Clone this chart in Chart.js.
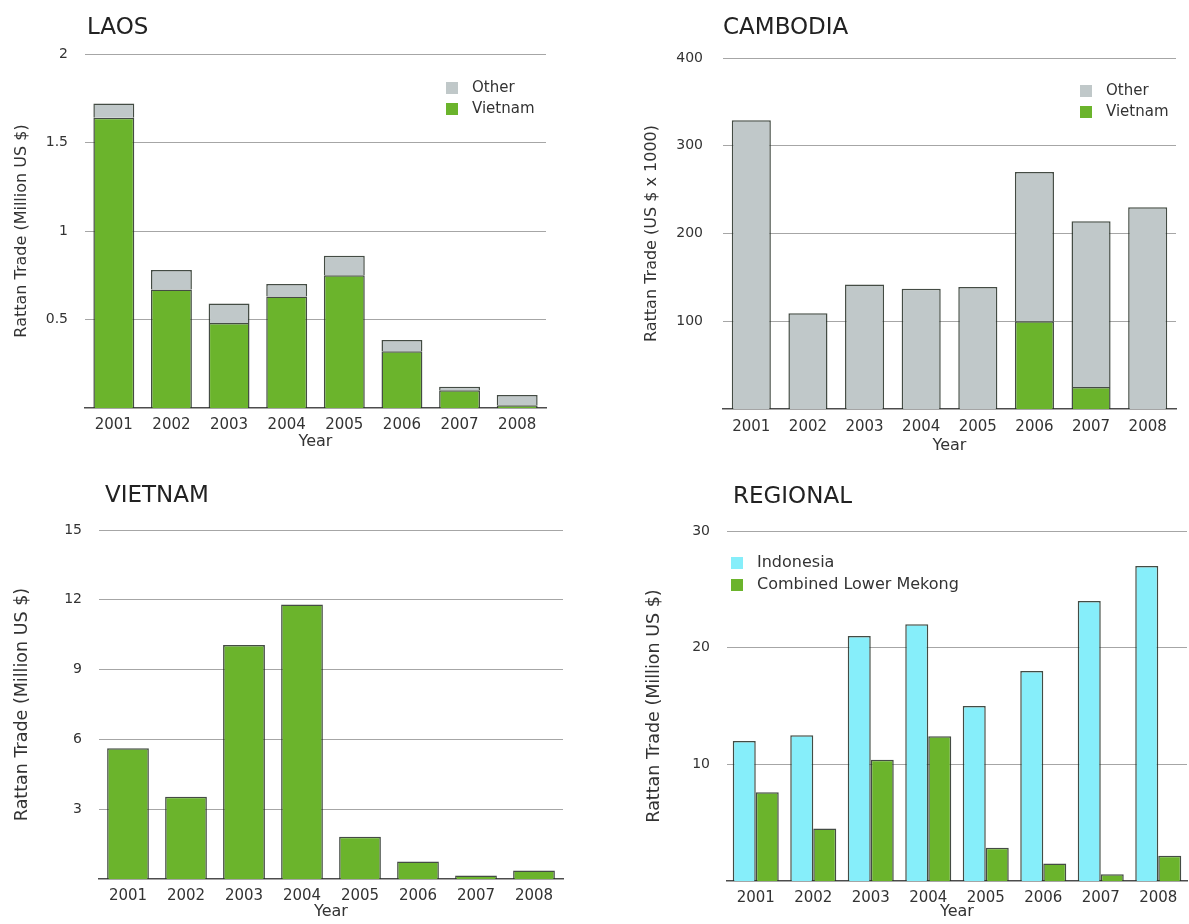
<!DOCTYPE html>
<html>
<head>
<meta charset="utf-8">
<title>Rattan trade</title>
<script src="https://cdn.jsdelivr.net/npm/chart.js@4.4.1/dist/chart.umd.min.js"></script>
<style>
  html, body { margin: 0; padding: 0; background: #ffffff; }
  body { width: 1189px; height: 924px; position: relative; overflow: hidden; }
  .panel { position: absolute; }
  .panel canvas { display: block; }
</style>
</head>
<body>
<div class="panel" style="left:0;top:0;"><canvas id="laos" width="594" height="462"></canvas></div>
<div class="panel" style="left:594px;top:0;"><canvas id="cambodia" width="595" height="462"></canvas></div>
<div class="panel" style="left:0;top:462px;"><canvas id="vietnam" width="594" height="462"></canvas></div>
<div class="panel" style="left:594px;top:462px;"><canvas id="regional" width="595" height="462"></canvas></div>

<script>
// ---- data ----
const years = ['2001', '2002', '2003', '2004', '2005', '2006', '2007', '2008'];

// Laos (million US $)
const laosToVietnam = [1.64, 0.67, 0.48, 0.63, 0.75, 0.32, 0.10, 0.015];
const laosToOther   = [0.08, 0.11, 0.11, 0.07, 0.11, 0.064, 0.02, 0.058];
const laosTicks     = [0.5, 1, 1.5, 2];

// Cambodia (US $ x 1000)
const cambodiaToVietnam = [0, 0, 0, 0, 0, 100, 25, 0];
const cambodiaToOther   = [329, 109, 142, 137, 139, 170, 189, 230];
const cambodiaTicks     = [100, 200, 300, 400];

// Vietnam (million US $)
const vietnamTrade = [5.62, 3.54, 10.06, 11.8, 1.82, 0.75, 0.15, 0.37];
const vietnamTicks = [3, 6, 9, 12, 15];

// Regional comparison (million US $)
const indonesiaTrade   = [12, 12.5, 21, 22, 15, 18, 24, 27];
const lowerMekongTrade = [7.6, 4.5, 10.4, 12.4, 2.85, 1.5, 0.57, 2.17];
const regionalTicks    = [10, 20, 30];

// ---- styling ----
const FONT = '"DejaVu Sans", "Liberation Sans", sans-serif';
const GREEN = '#6bb42c';
const GREY = '#c0c8c9';
const CYAN = '#86eefa';
const EDGE = 'rgba(35,45,35,0.85)';
const TEXT = '#333333';

// panel heading and in-plot legend
const panelDecor = {
  id: 'panelDecor',
  afterDraw(chart, args, opts) {
    const ctx = chart.ctx;
    ctx.save();
    ctx.textBaseline = 'middle';
    ctx.textAlign = 'left';
    ctx.fillStyle = '#222222';
    ctx.font = '23px ' + FONT;
    ctx.fillText(opts.title, opts.titleX, opts.titleY);
    if (opts.legend) {
      let ds = chart.data.datasets.slice();
      if (opts.reverse) ds.reverse();
      ctx.font = opts.legendSize + 'px ' + FONT;
      ds.forEach((d, i) => {
        const y = opts.legendY + i * opts.legendGap;
        ctx.fillStyle = d.backgroundColor;
        ctx.fillRect(opts.legendX, y - 6, 12, 12);
        ctx.fillStyle = TEXT;
        ctx.fillText(d.label, opts.legendX + 26, y);
      });
    }
    ctx.restore();
  }
};

function makePanel(id, datasets, opt) {
  const tickValues = opt.ticks;
  return new Chart(document.getElementById(id), {
    type: 'bar',
    data: { labels: years, datasets: datasets },
    plugins: [panelDecor],
    options: {
      responsive: false,
      animation: false,
      events: [],
      layout: { padding: { left: 0, top: opt.top, right: opt.right, bottom: 0 } },
      datasets: {
        bar: {
          categoryPercentage: opt.catPct,
          barPercentage: opt.barPct,
          borderColor: EDGE,
          borderWidth: 1.5
        }
      },
      plugins: {
        legend: { display: false },
        tooltip: { enabled: false },
        panelDecor: opt.decor
      },
      scales: {
        x: {
          stacked: opt.stacked,
          grid: { display: false, drawTicks: false },
          border: { display: true, color: '#4d4d4d', width: 1.5 },
          ticks: {
            color: TEXT, font: { family: FONT, size: 15 },
            padding: opt.xTickPad, maxRotation: 0, autoSkip: false
          },
          title: {
            display: true, text: 'Year', color: TEXT,
            font: { family: FONT, size: 16 },
            padding: { top: 0, bottom: opt.yearPad }
          },
          afterFit(axis) { axis.height = opt.xAxisH; }
        },
        y: {
          stacked: opt.stacked,
          min: 0,
          max: opt.max,
          afterBuildTicks(axis) { axis.ticks = tickValues.map(v => ({ value: v })); },
          grid: { color: '#a6a6a6', lineWidth: 1, drawTicks: false },
          border: { display: false },
          ticks: {
            color: TEXT, font: { family: FONT, size: 14 },
            padding: opt.yTickPad,
            callback: v => String(v)
          },
          title: {
            display: true, text: opt.yTitle, color: TEXT,
            font: { family: FONT, size: opt.yTitleSize },
            padding: { top: opt.yTitlePad, bottom: 0 }
          },
          afterFit(axis) { axis.width = opt.yAxisW; }
        }
      }
    }
  });
}

// LAOS
makePanel('laos', [
  { label: 'Vietnam', data: laosToVietnam, backgroundColor: GREEN },
  { label: 'Other', data: laosToOther, backgroundColor: GREY }
], {
  stacked: true, max: 2, ticks: laosTicks,
  yTitle: 'Rattan Trade (Million US $)', yTitleSize: 16,
  top: 54, right: 48, yAxisW: 85, xAxisH: 54,
  xTickPad: 8, yearPad: 10.4, yTickPad: 17, yTitlePad: 12.4,
  catPct: 1, barPct: 0.71,
  decor: { title: 'LAOS', titleX: 87, titleY: 28, legend: true, reverse: true,
           legendX: 446, legendY: 88, legendGap: 21, legendSize: 15 }
});

// CAMBODIA
makePanel('cambodia', [
  { label: 'Vietnam', data: cambodiaToVietnam, backgroundColor: GREEN },
  { label: 'Other', data: cambodiaToOther, backgroundColor: GREY }
], {
  stacked: true, max: 400, ticks: cambodiaTicks,
  yTitle: 'Rattan Trade (US $ x 1000)', yTitleSize: 16,
  top: 58, right: 13, yAxisW: 129, xAxisH: 53,
  xTickPad: 9, yearPad: 6.4, yTickPad: 20, yTitlePad: 48.4,
  catPct: 1, barPct: 0.69,
  decor: { title: 'CAMBODIA', titleX: 129, titleY: 28, legend: true, reverse: true,
           legendX: 486, legendY: 91, legendGap: 21, legendSize: 15 }
});

// VIETNAM
makePanel('vietnam', [
  { label: 'Vietnam', data: vietnamTrade, backgroundColor: GREEN }
], {
  stacked: false, max: 15, ticks: vietnamTicks,
  yTitle: 'Rattan Trade (Million US $)', yTitleSize: 17.5,
  top: 68, right: 31, yAxisW: 99, xAxisH: 45,
  xTickPad: 8, yearPad: 2.4, yTickPad: 17, yTitlePad: 11.5,
  catPct: 1, barPct: 0.72,
  decor: { title: 'VIETNAM', titleX: 105, titleY: 34, legend: false }
});

// REGIONAL
makePanel('regional', [
  { label: 'Indonesia', data: indonesiaTrade, backgroundColor: CYAN },
  { label: 'Combined Lower Mekong', data: lowerMekongTrade, backgroundColor: GREEN }
], {
  stacked: false, max: 30, ticks: regionalTicks,
  yTitle: 'Rattan Trade (Million US $)', yTitleSize: 17.5,
  top: 69, right: 2, yAxisW: 133, xAxisH: 43,
  xTickPad: 8, yearPad: 2.4, yTickPad: 17, yTitlePad: 49.5,
  catPct: 0.8, barPct: 1,
  decor: { title: 'REGIONAL', titleX: 139, titleY: 35, legend: true, reverse: false,
           legendX: 137, legendY: 101, legendGap: 22, legendSize: 16 }
});
</script>
</body>
</html>
